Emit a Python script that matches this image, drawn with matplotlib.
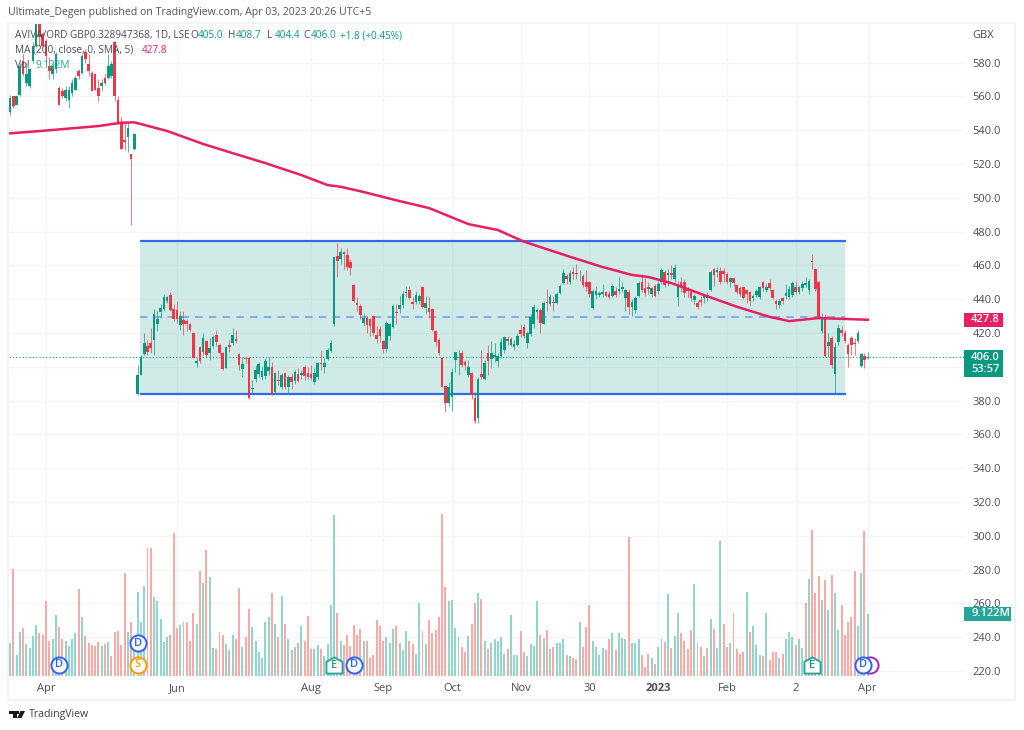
import numpy as np
import matplotlib
matplotlib.use("Agg")
import matplotlib.pyplot as plt
from matplotlib.patches import Rectangle, Polygon
from matplotlib.path import Path

plt.rcParams['font.family'] = ['Open Sans', 'DejaVu Sans']

# daily candles, one row per ten sessions
opens = [
    550.5,560,555,561,581,568,566,581,590,603,
    597,593,578,573,576,565,563,559,558,562,
    564,575,574,586,579,574,573,565,566,571,
    571,572,592,558,544,534,536,526,529,
    384,395,407.5,412,414,416,425,432.5,434,439,
    442.5,434,433.5,424.5,427.5,427,425.5,420,402,411.5,
    408.5,415,408,412,418.5,413,408,399.5,413,414,
    416.5,407.5,398.6,405.3,405.4,386.7,392.7,395.7,393.7,394.7,
    397.5,399.6,385.2,392,388.2,396,387.8,394,391.7,395.7,
    395,399.6,396.5,395.7,390.8,394,402,400,404.4,409.5,
    425,465.5,464,468,466,462,448.4,438,436,426,
    428.6,428.2,430,418.8,422.3,415.2,410.3,418,423.7,432.6,
    434,436.5,443.8,445.4,438.5,438.5,439,447,435,434.5,
    434,421,416,405,388.6,378.7,382.3,404,405,408,
    403,395,396,381.3,369.5,395.5,393,407.9,404.6,405.6,
    403.4,406.5,409.9,416.6,412.9,411.5,412.9,422,423.3,413.8,
    419.4,425.3,432.6,433.6,425.3,438.5,437,438.5,437.9,443.4,
    449.3,453.9,449.9,455.8,455.6,455.8,453.7,450.3,450.3,434.5,
    442.4,442.4,443,444,443,442,445,445,446,440.5,
    444.4,435.2,433.6,442,450.3,446.4,447,443,447.8,444.8,
    449.9,455.8,454.3,455.6,451.7,441.5,450.3,450.3,446.4,444.4,
    439.5,437.9,439.5,440.5,440.5,445.4,457.6,455.8,456.8,456.8,
    454.7,450.3,452.3,448.4,446.4,447.4,445.4,444.4,440.5,442.4,
    441.5,449.9,445.4,449.3,445.4,439,436.5,440.5,442,441.5,
    442.4,447,444.4,446.4,448.4,445.4,462.7,457.6,450.3,421.3,
    429.2,412.3,416.8,395.7,414.8,422,420.2,412.9,416.8,413.8,
    415.4,400.4,406.3,405,
]
highs = [
    561,560,561,580,585,580,577,592,605,605,
    598,594,583,580,586,566,565,566,566,570,
    572,576,585,588,585,575,574,570,570,573,
    585,581,593,560,548,545,545,526,538.5,
    401,407,420,416,423,434,433,437,443,442,
    444,437,439,433,433,428,426,420.5,405,412,
    420,416,417,419,422,414,409,412,416,423,
    422,408,406,406,406,392,401,403,400,405,
    406,403,397,398,396,397,395,396,398,399,
    398,401,400,401,399,403,410,405,411,416,
    465,473,470,468.5,470,464,449,441,437,432,
    430,429,430.5,424,424,416,427,426,437,437,
    442,445,448,448,441,445,443,447.5,442,441,
    435,422,417,405.5,389,391,399,409,410,410,
    404,404,397,385,394,410,404,413,415,414,
    408,417,418,418,417.5,416,420,425.5,425,421,
    431,437,435,435,439,446,443,442,444,449,
    458,455,457.5,459,460.5,457,455,457,451,446,
    448,445,449,445,445,449,447,453,450,446,
    446,440,442,451,455,453,450,447,449,451,
    458.5,457,458,460,460.5,451,453,452,447,446,
    443,439,442,443,444,457,458.5,459,459,458.5,
    456,453,453,449,448,448,446,445,443,446,
    448,451,449,452,446,440,440,441,449,448,
    451,451,448,451,453,452,467,458,451,432,
    431,420,418,414,425,424,422,414,418,417,
    422,408,408,408.7,
]
lows = [
    549,553,555,560,572,566,565,580,589,590,
    589,580,570,570,574,555,559,557,553,560,
    564,570,573,580,572,563,564,557,563,567,
    570,571,557,545,529,528,527,484,528,
    383.5,395,407,407,408,407,421,429,433,438,
    433,427,426,422,419,421,421,405,400,402.5,
    407,406,404,411,412,407,398,399,409,413,
    414,398,394,402,381,384,391,394,392,393,
    395,383,384,389,387,387,384,387,390,391,
    393,392,393,392,390,393,398,396,404,409,
    424,453,461,458,457,454,438.5,433,428,424,
    420,418,419,414,414.5,408,409,416,423,425,
    432,435,441,440,434,437,437,435,431,429,
    421,412,407,388,373.5,377,374,397,395,400,
    398,394,381,367,367,393,392,395,399,403,
    400,405,408,413,412,410,412,417.5,417,411,
    418,423,428,420,425,433,436,433,437,443,
    449,449,449,452,452,451,447,445,441,434,
    440,441,441,441,440,441,441,443,444,433,
    431,430,432,441,444,442,443,441,441,443,
    449,447,448,452,450,436,444,441,441,439,
    437,434,436,438,439,445,448,453,449,450,
    449,447,448,443,442,440,438,436,439,441,
    440,445,444,445,440,434,435,437,440,440,
    441,443,443,445,447,443,458,445,428,420,
    406,406,399,384.2,413,418,414,400,407,407,
    414,400,399,404.4,
]
closes = [
    559,554,560,578,573,573,576,590,603,595,
    590,584,575,578,585,555,560,564,564,568,
    571,572,584,582,575,563,564,560,568,568,
    578,579,560,545,529,533,541,523,538,
    395,405.5,414,408.5,411,431,428.5,434.5,441.5,441,
    433.5,428.5,428.5,430,425,425,422,405,403.5,403.5,
    417,407,411,417.5,414.5,408,398.5,411.5,411.5,418.8,
    415,401,401.4,404.3,381.7,387.7,398,401.4,397.7,403.6,
    400,383.3,396,391.7,395,388.2,393.7,391,397,391.7,
    396,394.7,394,393.5,396,402.4,401.4,402,409.9,413.8,
    464.7,462.7,467.7,466.7,459.2,458.6,439,436.5,430.6,428.6,
    424.7,424,419.8,416.4,418.4,410.5,426,425,436,431.6,
    436.5,443,444.4,440.8,437,442.4,442,435.5,438,432.6,
    422,414.4,408.3,388.2,378.3,388.2,397,408.5,405.5,401,
    401,400,383.3,368,393,393.7,402.4,403.6,408,407,
    406.3,414.8,417.4,415.4,416.2,413.2,418.2,419.4,418.2,419.8,
    429.6,435.5,433.6,425.7,437.9,437.5,441.5,437.5,443,448,
    455.3,451.7,455.6,455,454.9,456.2,448.4,447,443,445,
    444.8,443.4,444,441.8,441.5,448,442.4,446,447,445.4,
    435.2,438.5,440.8,449.3,445.4,443.4,446,446.4,442,449,
    457.2,448.4,455.3,454.3,458.2,448.4,446.4,443.4,445,440.5,
    441.8,435.5,438.3,442.4,442.4,455.8,454.3,457.2,450,454.9,
    449.9,452.3,449.3,444.4,443,440.5,443,439,442,444.8,
    447.4,446.4,447.4,446.4,440.8,437,438.9,439,443.4,445.8,
    449.3,444,447,449,449.3,450.7,461.8,445.8,428.6,428.6,
    406.3,414.8,401,411.5,423.1,419.8,415.4,407.5,412.9,413.4,
    419.8,407.5,404,406,
]

# volume in millions
volumes = [
    4.9,15.8,3.1,6.4,7.0,4.7,4.1,5.9,7.5,6.3,
    6.0,11.1,5.2,5.5,8.9,7.2,5.5,5.2,4.4,5.4,
    6.3,12.8,8.7,5.9,4.8,4.5,4.4,5.0,4.4,4.7,
    5.0,3.0,6.4,6.6,4.5,15.1,6.4,7.9,4.3,12.4,
    8.0,13.2,18.9,18.9,11.6,11.0,8.4,5.0,5.7,6.0,
    21.1,7.0,7.5,7.9,7.9,5.2,9.2,7.6,15.4,13.7,
    18.5,14.6,4.1,3.9,6.4,6.0,4.7,3.8,6.0,5.5,
    12.9,4.2,5.8,9.9,7.2,5.2,3.6,2.7,7.9,8.7,
    12.2,7.6,5.8,11.7,7.6,5.4,3.8,4.2,4.8,7.4,
    5.2,8.8,3.9,4.0,4.6,4.0,2.9,4.7,10.5,23.7,
    9.3,
    5.2,4.5,6.0,4.4,7.5,6.0,6.9,5.2,5.2,2.7,
    3.1,8.2,7.3,5.1,5.8,4.8,6.9,7.4,4.8,3.8,
    6.6,5.1,4.7,3.3,10.8,6.6,4.7,8.2,6.3,6.8,
    8.7,23.9,13.1,11.1,11.2,7.0,5.8,4.2,3.6,5.9,
    7.6,10.7,12.2,11.3,5.2,3.9,4.8,5.5,5.1,5.8,
    3.2,3.9,8.9,3.1,3.1,6.6,3.6,2.9,4.7,4.4,
    11.1,6.0,5.6,6.7,3.9,4.2,4.8,4.8,5.5,3.1,
    3.0,2.6,2.5,8.0,4.2,7.2,10.4,5.2,4.2,3.1,
    4.1,3.8,5.4,6.3,3.8,6.3,5.6,5.5,20.5,4.9,
    4.8,5.4,3.1,1.3,3.2,2.7,1.8,4.2,5.5,5.0,
    12.1,4.1,5.9,9.3,
    6.3,5.2,4.0,6.7,13.5,4.9,4.2,3.0,4.1,8.4,
    6.9,4.1,19.9,7.7,4.2,4.8,9.2,3.9,3.2,3.5,
    12.3,6.5,7.3,4.5,3.1,3.0,9.3,2.3,3.5,3.6,
    2.6,3.2,5.5,6.4,5.8,4.5,5.5,4.1,10.7,14.2,
    21.5,12.2,14.7,11.2,14.1,9.7,14.8,12.2,6.7,10.4,
    6.1,7.9,8.7,15.5,7.4,15.2,21.3,9.122,
]
# volume bar colours, read separately from the candles (g/r)
volume_dirs = (
    "grggrggggr" "rrrggrrggg" "grgrrrrrgr" "grrrrrgrgg" "ggrrgggggr"
    "rrgrrrrgrg" "rggrrrgrgr" "rgrrgggggg" "rgrgrgrgrg" "rrrggrgggg" "r"
    "grrrrrrgrr" "rrrrgggrgg" "grrggrgrrr" "rrrggggrrg" "rrgrgrgggg"
    "grgggrrggg" "grgrgrgggr" "grrgrrrggg" "grrgrgggrg" "ggrrrgrggr" "grgg"
    "rrrrgrrgrg" "rggrrgrrrr" "grgggrgrrr" "grgggrggrg" "rrrgrgrggr" "rrrrggrg"
)

# 200 day moving average, read at the bends of the line
ma_idx = [0,10,27,34,38,48,59,68,78,89,97,101,108,119,128,140,149,157,171,181,
          190,195,202,212,222,232,238,247,262]
ma_val = [538.1,539.6,542.4,544.4,544.6,539.5,531.8,526.4,520.5,513.4,507.5,506.5,
          503.4,498,493.9,484.4,480.9,474,465.1,459,454.3,453.1,449.5,442.4,435.5,
          429.5,427,428.8,427.8]

# drawn range box
box_start, box_end = 39.7, 255.0
box_top, box_mid, box_bottom = 474.6, 429.2, 384.0
last_price = 406.0

price_ticks = list(range(220, 600, 20))
time_idx = [11, 51, 92, 114, 135, 156, 177, 198, 219, 240, 262]
time_labels = ["Apr", "Jun", "Aug", "Sep", "Oct", "Nov", "30", "2023", "Feb", "2", "Apr"]

GREEN = "#089981"
RED = "#f23645"
PINK = "#e91e63"
BLUE = "#2f6bf0"
GRID = "#f4f5f9"
TEXT = "#4a4d57"

W, H = 1024, 730
fig = plt.figure(figsize=(W / 100, H / 100), dpi=100, facecolor="white")
rect = [9 / W, 1 - 676 / H, (964 - 9) / W, (676 - 24) / H]

ax = fig.add_axes(rect, zorder=1)
ax_vol = fig.add_axes(rect, zorder=2)
ov = fig.add_axes([0, 0, 1, 1], zorder=3)
ov.set_xlim(0, W)
ov.set_ylim(H, 0)
ov.axis("off")

x = np.arange(len(closes))
xlim = (-0.3, 291.4)

ax.set_xlim(*xlim)
ax.set_ylim(217.0, 602.8)
ax.yaxis.tick_right()
ax.set_yticks(price_ticks)
ax.set_yticklabels([f"{p:.1f}" for p in price_ticks], fontsize=8, color=TEXT)
ax.set_xticks(time_idx)
ax.set_xticklabels(time_labels, fontsize=8, color=TEXT)
ax.get_xticklabels()[7].set_fontweight("bold")
ax.tick_params(axis="both", length=0)
ax.tick_params(axis="y", pad=6)
ax.tick_params(axis="x", pad=5)
ax.grid(True, color=GRID, linewidth=0.9)
ax.set_axisbelow(True)
for s in ax.spines.values():
    s.set_visible(False)

# range box
ax.add_patch(Rectangle((box_start, box_bottom), box_end - box_start, box_top - box_bottom,
                       facecolor="#089981", alpha=0.19, edgecolor="none", zorder=1))
ax.hlines([box_top, box_bottom], box_start, box_end + 0.3, color=BLUE, linewidth=1.6, zorder=2)
ax.hlines(box_mid, box_start, box_end, color="#6f9af5", linewidth=1.1,
          linestyles=(0, (5, 4)), zorder=2)
ax.axhline(last_price, color=GREEN, linewidth=0.8, linestyle=(0, (1, 2)), zorder=2)

# candles
o = np.array(opens)
c = np.array(closes)
up = c >= o
colors = np.where(up, GREEN, RED)
ax.vlines(x, lows, highs, colors=colors, linewidth=0.7, alpha=0.7, zorder=3)
ax.bar(x, np.abs(c - o), bottom=np.minimum(o, c), width=0.8, color=colors,
       linewidth=0, zorder=4)

ax.plot(ma_idx, ma_val, color=PINK, linewidth=1.8, solid_joinstyle="round", zorder=5)

# volume pane
ax_vol.patch.set_alpha(0)
ax_vol.set_xlim(*xlim)
ax_vol.set_ylim(0, 95.9)
ax_vol.axis("off")
vol_colors = ["#92d5ca" if d == "g" else "#f9aaa6" for d in volume_dirs]
ax_vol.bar(x, volumes, width=0.6, color=vol_colors, linewidth=0)

# event badges along the bottom of the pane
tr = ax_vol.get_xaxis_transform()
badge_low, badge_high = 0.0169, 0.0506
ax_vol.scatter([262.6], [badge_low], s=135, marker="o", facecolor="white", edgecolor="#9c27b0",
               linewidth=1.4, transform=tr, zorder=5, clip_on=False)
badges = [(15, badge_low, "D", "#2962ff"), (39, badge_high, "D", "#2962ff"),
          (39, badge_low, "S", "#ff9800"), (105, badge_low, "D", "#2962ff"),
          (260.7, badge_low, "D", "#2962ff")]
for bx, by, letter, col in badges:
    ax_vol.scatter([bx], [by], s=135, marker="o", facecolor="white", edgecolor=col,
                   linewidth=1.4, transform=tr, zorder=6, clip_on=False)
    ax_vol.text(bx, by, letter, color=col, fontsize=8, fontweight="semibold", ha="center",
                va="center", transform=tr, zorder=7)
house = Path([(-1, -1), (1, -1), (1, 0.45), (0, 1), (-1, 0.45), (-1, -1)], closed=True)
for ex in [99, 245]:
    ax_vol.scatter([ex], [badge_low], s=135, marker=house, facecolor="white", edgecolor="#26a69a",
                   linewidth=1.4, transform=tr, zorder=6, clip_on=False)
    ax_vol.text(ex, badge_low - 0.001, "E", color="#1a9a8a", fontsize=8, fontweight="semibold",
                ha="center", va="center", transform=tr, zorder=7)

# outer frame
ov.add_patch(Rectangle((8, 23), 1007, 677, facecolor="none", edgecolor="#f0f3fa", linewidth=1.5))

# header and legend
LEGEND_SIZE = 7.2
ov.text(8, 12.5, "Ultimate_Degen published on TradingView.com, Apr 03, 2023 20:26 UTC+5",
        fontsize=7.6, color="#555555", va="center")
ov.text(15, 35.5, "AVIVA/ORD GBP0.328947368, 1D, LSE", fontsize=LEGEND_SIZE, color=TEXT, va="center")
for lx, head, val in [(190, "O", "405.0"), (228, "H", "408.7"), (267, "L", "404.4"), (303, "C", "406.0")]:
    ov.text(lx, 35.5, head, fontsize=LEGEND_SIZE, color=TEXT, va="center")
    ov.text(lx + 7.5, 35.5, val, fontsize=LEGEND_SIZE, color=GREEN, va="center")
ov.text(340, 35.5, "+1.8 (+0.45%)", fontsize=LEGEND_SIZE, color=GREEN, va="center")
ov.text(15, 50.5, "MA (200, close, 0, SMA, 5)", fontsize=LEGEND_SIZE, color=TEXT, va="center")
ov.text(142, 50.5, "427.8", fontsize=LEGEND_SIZE, color=PINK, va="center")
ov.text(15, 65.5, "Vol", fontsize=LEGEND_SIZE, color=TEXT, va="center")
ov.text(36, 65.5, "9.122M", fontsize=LEGEND_SIZE, color="#26a69a", va="center")
ov.text(972, 35.5, "GBX", fontsize=8, color=TEXT, va="center")

# price scale labels
ov.add_patch(Rectangle((964, 313), 39, 14, facecolor=PINK, edgecolor="none", zorder=5))
ov.text(971, 320, "427.8", fontsize=8, fontweight="semibold", color="white", va="center", zorder=6)
ov.add_patch(Rectangle((964, 350), 39, 27, facecolor=GREEN, edgecolor="none", zorder=5))
ov.text(971, 357, "406.0", fontsize=8, fontweight="semibold", color="white", va="center", zorder=6)
ov.text(971, 369.5, "53:57", fontsize=8, fontweight="semibold", color="white", va="center", zorder=6)
ov.add_patch(Rectangle((964, 607), 47, 14, facecolor="#26a69a", edgecolor="none", zorder=5))
ov.text(971, 614, "9.122M", fontsize=8, fontweight="semibold", color="white", va="center", zorder=6)

# footer logo
logo = "#131722"
ov.add_patch(Polygon([(9, 711), (16.5, 711), (16.5, 718), (12.8, 718), (12.8, 714), (9, 714)],
                     facecolor=logo, edgecolor="none"))
ov.add_patch(Polygon([(20.5, 711), (25, 711), (21.5, 718), (17.2, 718)], facecolor=logo, edgecolor="none"))
ov.add_patch(Rectangle((16.8, 711), 2.6, 2.6, facecolor=logo, edgecolor="none"))
ov.text(29, 714.5, "TradingView", fontsize=7.6, color="#3d3f47", va="center")

fig.savefig("out.png", dpi=100, facecolor="white")
